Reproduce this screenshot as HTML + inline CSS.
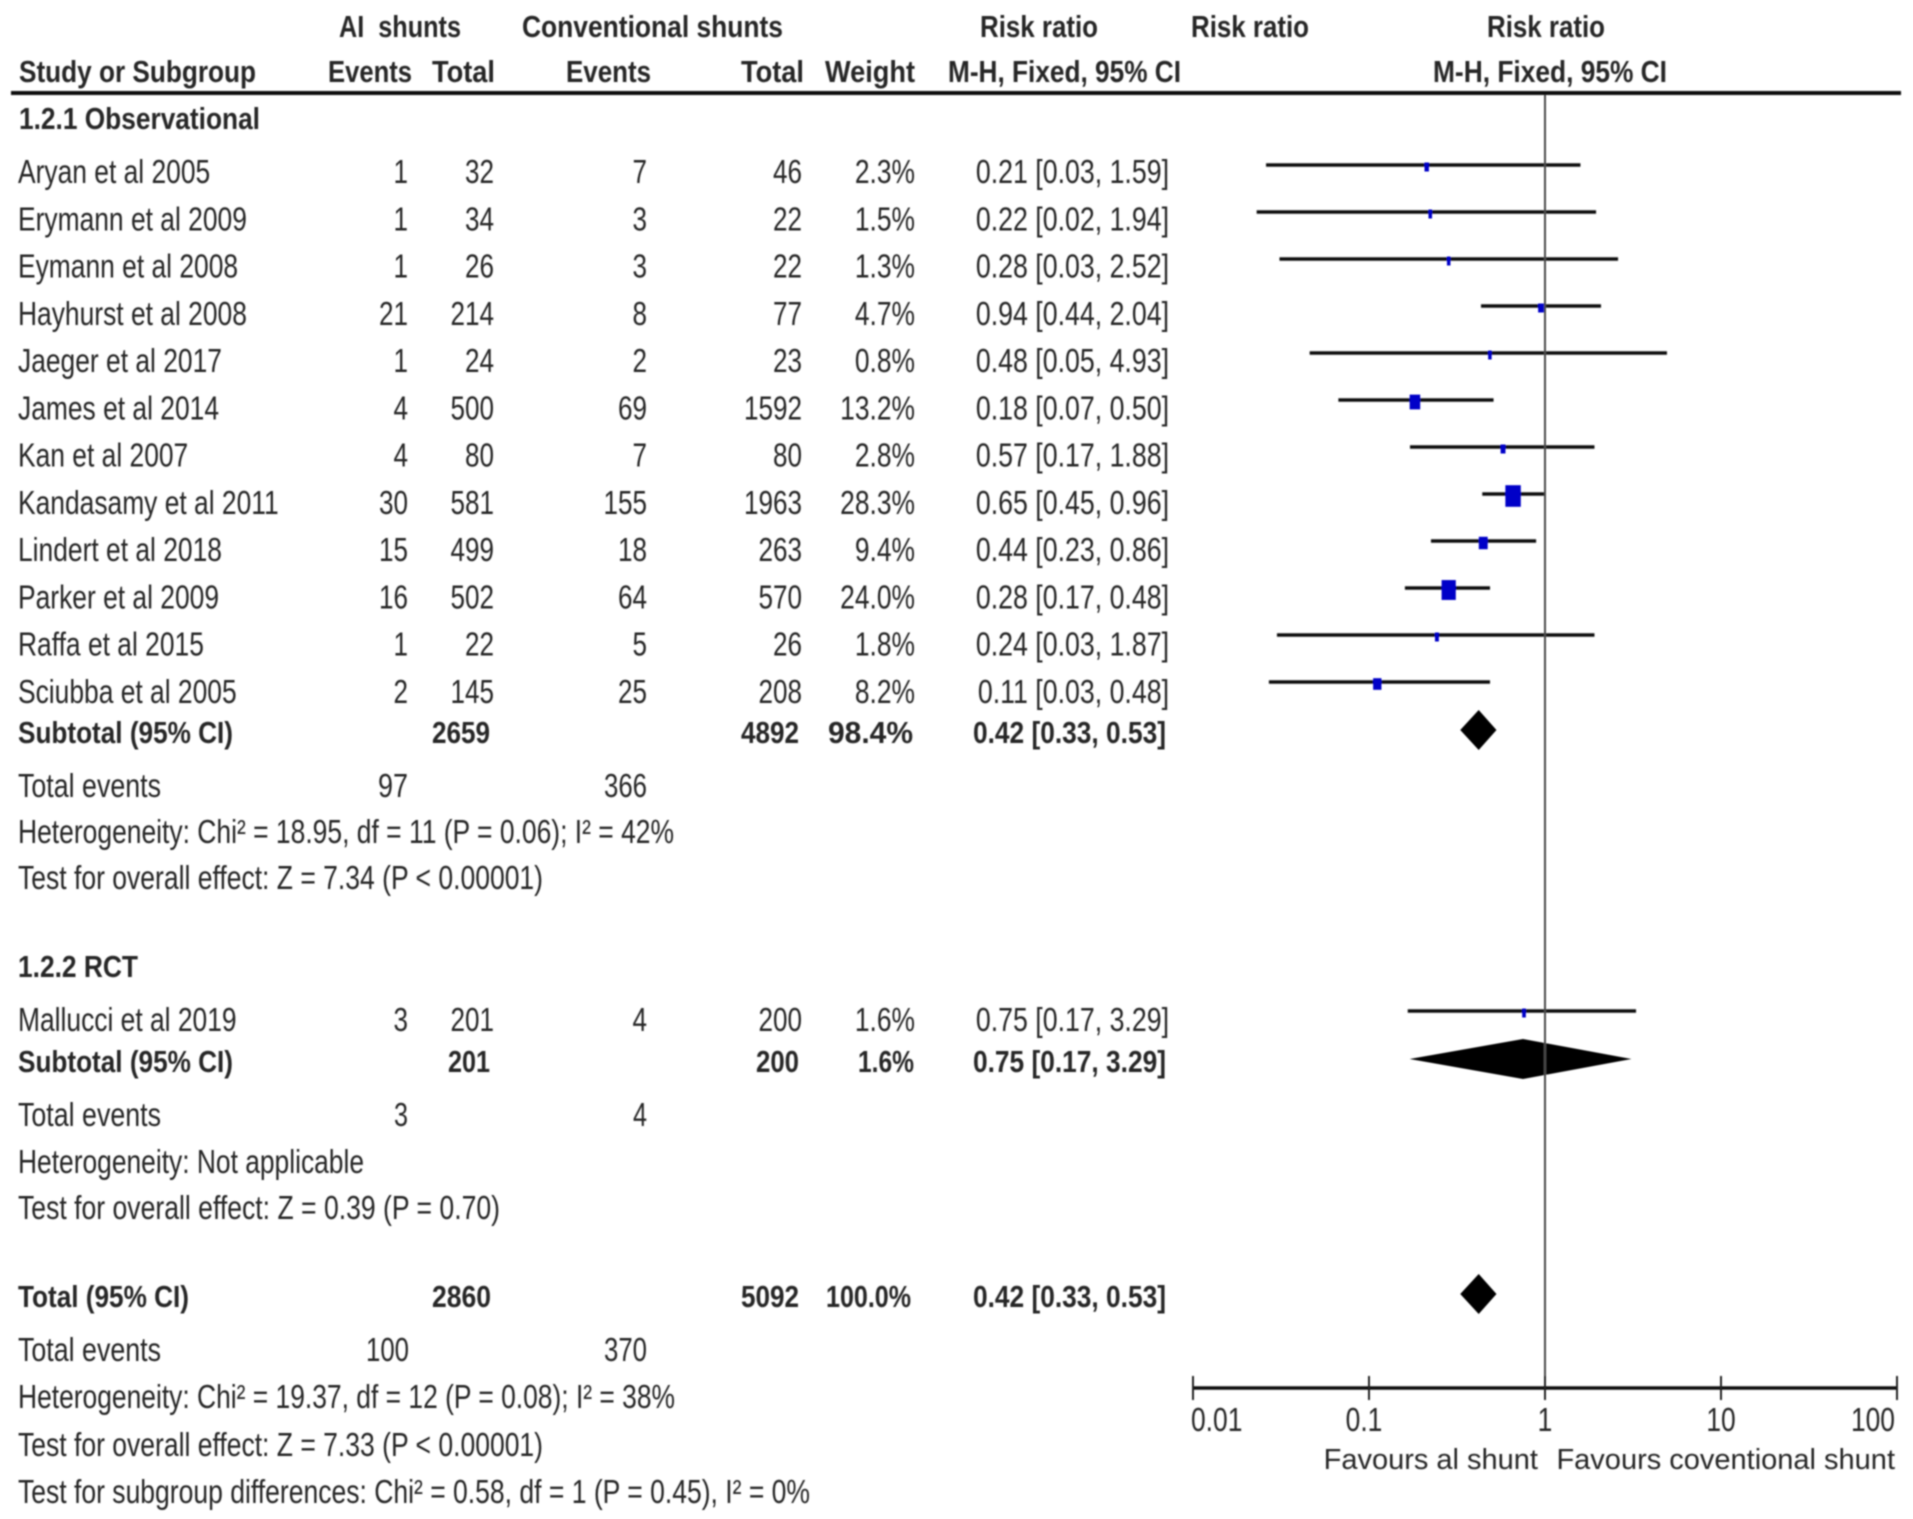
<!DOCTYPE html>
<html lang="en">
<head>
<meta charset="utf-8">
<title>Forest plot: AI shunts vs conventional shunts</title>
<style>
html,body{margin:0;padding:0;background:#fff;}
svg{display:block;}
text{font-family:"Liberation Sans",sans-serif;fill:#262626;white-space:pre;}
.n{font-size:33px;}
.b{font-size:31px;font-weight:bold;}
.ax{font-size:29px;}
</style>
</head>
<body>
<svg id="plot" xmlns="http://www.w3.org/2000/svg" width="1913" height="1519" viewBox="0 0 1913 1519">
<defs><filter id="soft" x="-2%" y="-2%" width="104%" height="104%"><feGaussianBlur stdDeviation="0.7"/></filter></defs>
<rect x="0" y="0" width="1913" height="1519" fill="#fff"/>
<g id="root" filter="url(#soft)">
<g>
<text class="b" x="339" y="37" textLength="122" lengthAdjust="spacingAndGlyphs">AI  shunts</text>
<text class="b" x="522" y="37" textLength="261" lengthAdjust="spacingAndGlyphs">Conventional shunts</text>
<text class="b" x="980" y="37" textLength="118" lengthAdjust="spacingAndGlyphs">Risk ratio</text>
<text class="b" x="1191" y="37" textLength="118" lengthAdjust="spacingAndGlyphs">Risk ratio</text>
<text class="b" x="1487" y="37" textLength="118" lengthAdjust="spacingAndGlyphs">Risk ratio</text>
<text class="b" x="19" y="82" textLength="237" lengthAdjust="spacingAndGlyphs">Study or Subgroup</text>
<text class="b" x="328" y="82" textLength="84" lengthAdjust="spacingAndGlyphs">Events</text>
<text class="b" x="432" y="82" textLength="63" lengthAdjust="spacingAndGlyphs">Total</text>
<text class="b" x="566" y="82" textLength="85" lengthAdjust="spacingAndGlyphs">Events</text>
<text class="b" x="741" y="82" textLength="63" lengthAdjust="spacingAndGlyphs">Total</text>
<text class="b" x="825" y="82" textLength="90" lengthAdjust="spacingAndGlyphs">Weight</text>
<text class="b" x="948" y="82" textLength="233" lengthAdjust="spacingAndGlyphs">M-H, Fixed, 95% CI</text>
<text class="b" x="1433" y="82" textLength="234" lengthAdjust="spacingAndGlyphs">M-H, Fixed, 95% CI</text>
</g>
<rect x="11" y="91" width="1890" height="4" fill="#111"/>
<text class="b" x="19" y="129" textLength="241" lengthAdjust="spacingAndGlyphs">1.2.1 Observational</text>

<g>
<text class="b" x="18" y="743" textLength="215" lengthAdjust="spacingAndGlyphs">Subtotal (95% CI)</text>
<text class="b" x="432" y="743" textLength="58" lengthAdjust="spacingAndGlyphs">2659</text>
<text class="b" x="741" y="743" textLength="58" lengthAdjust="spacingAndGlyphs">4892</text>
<text class="b" x="828" y="743" textLength="85" lengthAdjust="spacingAndGlyphs">98.4%</text>
<text class="b" x="973" y="743" textLength="193" lengthAdjust="spacingAndGlyphs">0.42 [0.33, 0.53]</text>
<text class="n" x="18" y="797" textLength="143" lengthAdjust="spacingAndGlyphs">Total events</text>
<text class="n" x="378" y="797" textLength="30" lengthAdjust="spacingAndGlyphs">97</text>
<text class="n" x="604" y="797" textLength="43" lengthAdjust="spacingAndGlyphs">366</text>
<text class="n" x="18" y="843" textLength="656" lengthAdjust="spacingAndGlyphs">Heterogeneity: Chi² = 18.95, df = 11 (P = 0.06); I² = 42%</text>
<text class="n" x="18" y="889" textLength="525" lengthAdjust="spacingAndGlyphs">Test for overall effect: Z = 7.34 (P &lt; 0.00001)</text>
</g>

<text class="b" x="18" y="977" textLength="120" lengthAdjust="spacingAndGlyphs">1.2.2 RCT</text>

<g>
<text class="b" x="18" y="1072" textLength="215" lengthAdjust="spacingAndGlyphs">Subtotal (95% CI)</text>
<text class="b" x="448" y="1072" textLength="42" lengthAdjust="spacingAndGlyphs">201</text>
<text class="b" x="756" y="1072" textLength="43" lengthAdjust="spacingAndGlyphs">200</text>
<text class="b" x="858" y="1072" textLength="56" lengthAdjust="spacingAndGlyphs">1.6%</text>
<text class="b" x="973" y="1072" textLength="193" lengthAdjust="spacingAndGlyphs">0.75 [0.17, 3.29]</text>
<text class="n" x="18" y="1126" textLength="143" lengthAdjust="spacingAndGlyphs">Total events</text>
<text class="n" x="394" y="1126" textLength="14" lengthAdjust="spacingAndGlyphs">3</text>
<text class="n" x="633" y="1126" textLength="14" lengthAdjust="spacingAndGlyphs">4</text>
<text class="n" x="18" y="1173" textLength="346" lengthAdjust="spacingAndGlyphs">Heterogeneity: Not applicable</text>
<text class="n" x="18" y="1219" textLength="482" lengthAdjust="spacingAndGlyphs">Test for overall effect: Z = 0.39 (P = 0.70)</text>
</g>

<g>
<text class="b" x="18" y="1307" textLength="171" lengthAdjust="spacingAndGlyphs">Total (95% CI)</text>
<text class="b" x="432" y="1307" textLength="59" lengthAdjust="spacingAndGlyphs">2860</text>
<text class="b" x="741" y="1307" textLength="58" lengthAdjust="spacingAndGlyphs">5092</text>
<text class="b" x="826" y="1307" textLength="85" lengthAdjust="spacingAndGlyphs">100.0%</text>
<text class="b" x="973" y="1307" textLength="193" lengthAdjust="spacingAndGlyphs">0.42 [0.33, 0.53]</text>
<text class="n" x="18" y="1361" textLength="143" lengthAdjust="spacingAndGlyphs">Total events</text>
<text class="n" x="366" y="1361" textLength="43" lengthAdjust="spacingAndGlyphs">100</text>
<text class="n" x="604" y="1361" textLength="43" lengthAdjust="spacingAndGlyphs">370</text>
<text class="n" x="18" y="1408" textLength="657" lengthAdjust="spacingAndGlyphs">Heterogeneity: Chi² = 19.37, df = 12 (P = 0.08); I² = 38%</text>
<text class="n" x="18" y="1456" textLength="525" lengthAdjust="spacingAndGlyphs">Test for overall effect: Z = 7.33 (P &lt; 0.00001)</text>
<text class="n" x="18" y="1503" textLength="792" lengthAdjust="spacingAndGlyphs">Test for subgroup differences: Chi² = 0.58, df = 1 (P = 0.45), I² = 0%</text>
</g>

<g id="rows"></g>
<g id="marks"></g>
<g id="axis"></g>
<text class="ax" x="1538" y="1469" text-anchor="end">Favours al shunt</text>
<text class="ax" x="1895" y="1469" text-anchor="end">Favours coventional shunt</text>
</g>
</svg>
<script>
// Study data
const studies = ["Aryan et al 2005","Erymann et al 2009","Eymann et al 2008","Hayhurst et al 2008","Jaeger et al 2017","James et al 2014","Kan et al 2007","Kandasamy et al 2011","Lindert et al 2018","Parker et al 2009","Raffa et al 2015","Sciubba et al 2005","Mallucci et al 2019"];
const aiEvents = [1,1,1,21,1,4,4,30,15,16,1,2,3];
const aiTotals = [32,34,26,214,24,500,80,581,499,502,22,145,201];
const convEvents = [7,3,3,8,2,69,7,155,18,64,5,25,4];
const convTotals = [46,22,22,77,23,1592,80,1963,263,570,26,208,200];
const weights = [2.3,1.5,1.3,4.7,0.8,13.2,2.8,28.3,9.4,24.0,1.8,8.2,1.6];
const riskRatios = [0.21,0.22,0.28,0.94,0.48,0.18,0.57,0.65,0.44,0.28,0.24,0.11,0.75];
const ciLows = [0.026,0.023,0.031,0.433,0.046,0.067,0.171,0.44,0.225,0.16,0.03,0.027,0.166];
const ciHighs = [1.59,1.95,2.6,2.08,4.93,0.51,1.91,1.0,0.89,0.487,1.91,0.487,3.29];
const ciTexts = ["[0.03, 1.59]","[0.02, 1.94]","[0.03, 2.52]","[0.44, 2.04]","[0.05, 4.93]","[0.07, 0.50]","[0.17, 1.88]","[0.45, 0.96]","[0.23, 0.86]","[0.17, 0.48]","[0.03, 1.87]","[0.03, 0.48]","[0.17, 3.29]"];
// Pooled estimates: subtotal observational, subtotal RCT, overall
const pooledNames = ["subtotal-observational","subtotal-rct","overall"];
const pooledRR = [0.42,0.75,0.42];
const pooledLow = [0.33,0.17,0.33];
const pooledHigh = [0.53,3.1,0.53];
// Axis
const axisTicks = [0.01,0.1,1,10,100];
const axisTickLabels = ["0.01","0.1","1","10","100"];

const NS = "http://www.w3.org/2000/svg";
const rowsG = document.getElementById("rows");
const marksG = document.getElementById("marks");
const axisG = document.getElementById("axis");

function xScale(v){ return 1545 + 176 * Math.log10(v); }
function lineY(i){ return i < 12 ? 165 + 47 * i : 1011; }
function textY(i){ return i < 12 ? 183 + 47.25 * i : 1031; }
function pooledY(i){ return [730, 1059, 1294][i]; }

function makeEl(parent, tag, props){
  const el = document.createElementNS(NS, tag);
  for (const k in props) el.setAttribute(k, props[k]);
  parent.appendChild(el);
  return el;
}
function addCell(parent, name, str, x, y, anchor, sx){
  const el = makeEl(parent, "text", {class:"n", "text-anchor":anchor, transform:"translate(" + x + "," + y + ") scale(" + sx + ",1)"});
  
  
  el.textContent = str;
  return el;
}

studies.forEach(function(study, i){
  const slug = study.split(" ")[0].toLowerCase() + "-" + study.slice(-4);
  const y = textY(i);
  addCell(rowsG, slug + "-study", study, 18, y, "start", 0.8);
  addCell(rowsG, slug + "-ai-events", String(aiEvents[i]), 408, y, "end", 0.79);
  addCell(rowsG, slug + "-ai-total", String(aiTotals[i]), 494, y, "end", 0.79);
  addCell(rowsG, slug + "-conventional-events", String(convEvents[i]), 647, y, "end", 0.79);
  addCell(rowsG, slug + "-conventional-total", String(convTotals[i]), 802, y, "end", 0.79);
  addCell(rowsG, slug + "-weight", weights[i].toFixed(1) + "%", 915, y, "end", 0.8);
  addCell(rowsG, slug + "-risk-ratio", riskRatios[i].toFixed(2) + " " + ciTexts[i], 1169, y, "end", 0.81);

  const ly = lineY(i);
  const ci = makeEl(marksG, "line", {x1:xScale(ciLows[i]), x2:xScale(ciHighs[i]), y1:ly, y2:ly, stroke:"#111", "stroke-width":3.6});
  
  

  const w = Math.max(3.5, 2.9 * Math.sqrt(weights[i]));
  const h = Math.max(9, w * 1.4);
  const cx = xScale(riskRatios[i]) + 1;
  const sq = makeEl(marksG, "rect", {x:cx - w / 2, y:ly + 2 - h / 2, width:w, height:h, fill:"#0000c8"});
  
  
});

pooledNames.forEach(function(name, i){
  const cy = pooledY(i);
  const hh = 20;
  const pts = [[xScale(pooledLow[i]),cy],[xScale(pooledRR[i]),cy - hh],[xScale(pooledHigh[i]),cy],[xScale(pooledRR[i]),cy + hh]];
  const d = makeEl(marksG, "polygon", {points:pts.map(function(p){return p.join(",");}).join(" "), fill:"#000"});
  
  
});

// Reference line and axis
const refLine = makeEl(axisG, "line", {x1:xScale(1), x2:xScale(1), y1:95, y2:1398, stroke:"#4a4a4a", "stroke-width":2});



const axisLine = makeEl(axisG, "line", {x1:xScale(axisTicks[0]), x2:xScale(axisTicks[axisTicks.length - 1]), y1:1388, y2:1388, stroke:"#111", "stroke-width":3.6});



axisTicks.forEach(function(t, i){
  const x = xScale(t);
  const tick = makeEl(axisG, "line", {x1:x, x2:x, y1:1376, y2:1400, stroke:"#222", "stroke-width":2});
  
  
  const anchor = i === 0 ? "start" : (i === axisTicks.length - 1 ? "end" : "middle");
  const tx = i === 0 ? x - 2 : (i === axisTicks.length - 1 ? x - 2 : (i === 1 ? x - 5 : x));
  addCell(axisG, "x-axis-label-" + axisTickLabels[i], axisTickLabels[i], tx, 1431, anchor, 0.8);
});
</script>
</body>
</html>
